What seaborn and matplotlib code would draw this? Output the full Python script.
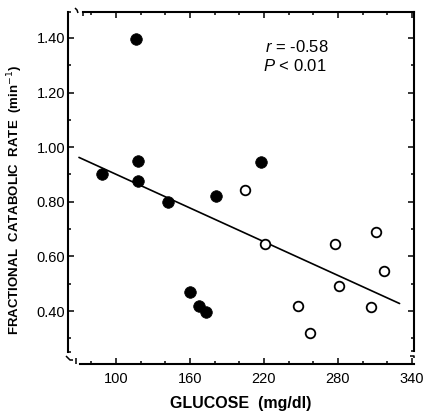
import numpy as np
import pandas as pd
import matplotlib
matplotlib.use("Agg")
import matplotlib.pyplot as plt
import seaborn as sns
from matplotlib.ticker import MultipleLocator, FormatStrFormatter

sns.set_theme(style="white")
plt.rcParams['font.family'] = ['Liberation Sans', 'DejaVu Sans']
plt.rcParams['mathtext.fontset'] = 'custom'
plt.rcParams['mathtext.it'] = 'Liberation Sans:italic'

# ---- data ----
filled_glucose = [89, 116, 118, 118, 142, 160, 167, 173, 181, 218]
filled_fcr = [0.90, 1.395, 0.95, 0.875, 0.80, 0.47, 0.42, 0.395, 0.82, 0.945]
open_glucose = [205, 221, 248, 257, 278, 281, 307, 311, 317]
open_fcr = [0.845, 0.645, 0.42, 0.32, 0.645, 0.49, 0.415, 0.69, 0.545]

x_ticks = [100, 160, 220, 280, 340]
y_ticks = [0.40, 0.60, 0.80, 1.00, 1.20, 1.40]
stat_lines = ["$r$ = -0.58", "$P$ < 0.01"]
x_label = "GLUCOSE  (mg/dl)"
y_label = "FRACTIONAL  CATABOLIC  RATE  (min$^{-1}$)"

df_f = pd.DataFrame({"glucose": filled_glucose, "fcr": filled_fcr})
df_o = pd.DataFrame({"glucose": open_glucose, "fcr": open_fcr})
df_all = pd.concat([df_f, df_o], ignore_index=True)

# ---- figure ----
W, H = 423, 415
fig = plt.figure(figsize=(W / 100, H / 100), dpi=100)
L, R, T, B = 68, 414, 12, 364
ax = fig.add_axes([L / W, (H - B) / H, (R - L) / W, (B - T) / H])
ax.set_facecolor("white")

XLIM = (61.1, 341.7)
YLIM = (0.2059, 1.4952)

# regression line over the drawn extent
ax.set_xlim(70, 330)
ax.set_ylim(*YLIM)
sns.regplot(data=df_all, x="glucose", y="fcr", scatter=False, ci=None,
            truncate=False, ax=ax, line_kws=dict(color="black", lw=1.2))

sns.scatterplot(data=df_f, x="glucose", y="fcr", ax=ax, color="black",
                edgecolor="black", s=70, marker="o", linewidth=0.5, zorder=3)
sns.scatterplot(data=df_o, x="glucose", y="fcr", ax=ax, color="white",
                edgecolor="black", s=48, marker="o", linewidth=1.3, zorder=3)

ax.set_xlim(*XLIM)
ax.set_ylim(*YLIM)

# ticks
ax.set_xticks(x_ticks)
ax.xaxis.set_minor_locator(MultipleLocator(20))
ax.set_yticks(y_ticks)
ax.yaxis.set_minor_locator(MultipleLocator(0.1))
ax.yaxis.set_major_formatter(FormatStrFormatter("%.2f"))
ax.tick_params(axis="both", which="both", direction="in", top=True, right=True,
               bottom=True, left=True, color="black", width=1.1)
ax.tick_params(axis="x", which="major", length=4.5, labelsize=10.5, pad=6)
ax.tick_params(axis="x", which="minor", length=2.5)
ax.tick_params(axis="y", which="major", length=4, labelsize=10.5, pad=2)
ax.tick_params(axis="y", which="minor", length=2)
for lab in ax.get_xticklabels() + ax.get_yticklabels():
    lab.set_color("black")

# spines with breaks
for s in ax.spines.values():
    s.set_color("black")
    s.set_linewidth(1.5)
ax.spines["left"].set_bounds(0.25, YLIM[1])
ax.spines["right"].set_bounds(0.255, YLIM[1])
ax.spines["bottom"].set_bounds(70.5, XLIM[1])
ax.spines["top"].set_bounds(73.5, XLIM[1])

def px_path(points, lw=1.1):
    xs = [(p[0] - L) / (R - L) for p in points]
    ys = [(B - p[1]) / (B - T) for p in points]
    ax.plot(xs, ys, transform=ax.transAxes, color="black", lw=lw,
            clip_on=False, solid_capstyle="butt")

# bottom-left break
px_path([(68, 352), (71, 352)])
px_path([(66, 356), (68, 358), (70, 360), (73, 360)])
px_path([(76, 358), (76, 364)])
# top-left break
px_path([(68, 12), (71, 12)])
px_path([(75, 8), (77, 10), (78, 13)])
px_path([(83, 12), (83, 16)])
# bottom-right break
px_path([(414, 351), (411, 351)])
px_path([(410, 356), (414, 356), (414, 358)])

# labels
ax.set_xlabel(x_label, fontsize=11.5, fontweight="bold", color="black")
ax.xaxis.set_label_coords(0.5, (B - 403) / (B - T))
ax.xaxis.label.set_va("center")
ax.set_ylabel(y_label, fontsize=9.5, fontweight="bold", color="black")
ax.yaxis.set_label_coords((15 - L) / (R - L), (B - 200) / (B - T))
ax.yaxis.label.set_va("center")

ax.text(220.5, 1.367, stat_lines[0], fontsize=12, ha="left", va="center", color="black")
ax.text(219.5, 1.297, stat_lines[1], fontsize=12, ha="left", va="center", color="black")

fig.savefig("out.png", dpi=100, facecolor="white")
